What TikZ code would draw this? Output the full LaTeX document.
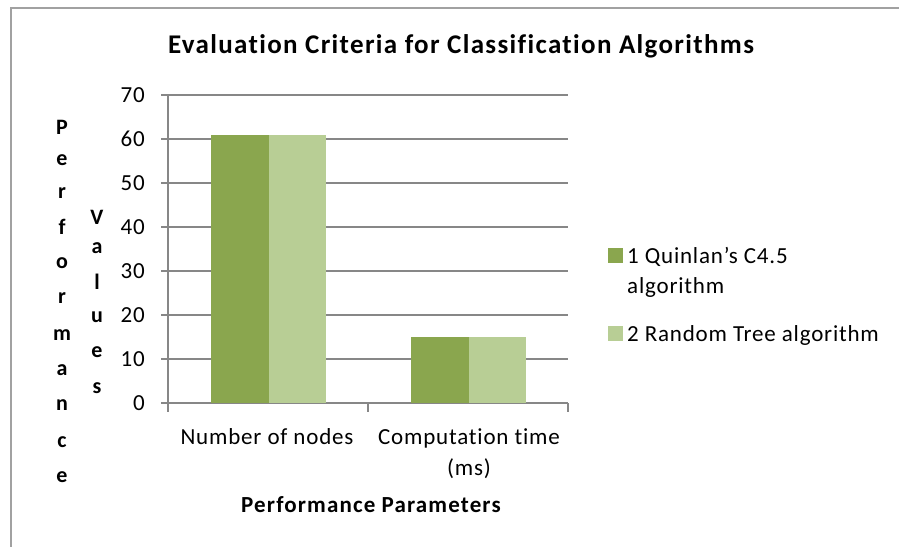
\documentclass[tikz,border=0pt]{standalone}
\usepackage{fontspec}
\setmainfont{Carlito}[LetterSpace=3.5,Ligatures=NoCommon]
\newfontfamily\boldfam{Carlito}[LetterSpace=5,Ligatures=NoCommon]
\begin{document}
\begin{tikzpicture}[x=1pt,y=-1pt,
  grid/.style={draw=black!47,line width=1.4pt},
  bardark/.style={fill=darkgreen,draw=none},
  barlight/.style={fill=lightgreen,draw=none},
  ticklab/.style={anchor=east,font=\fontsize{23}{26}\selectfont,inner sep=0pt},
  axlab/.style={anchor=base,font=\fontsize{23}{26}\selectfont,inner sep=0pt},
  vlet/.style={font=\boldfam\bfseries\fontsize{22}{24}\selectfont,inner sep=0pt},
  legtext/.style={anchor=base west,font=\fontsize{23}{26}\selectfont,inner sep=0pt},
  legbox/.style={minimum size=15pt,inner sep=0pt}]
\definecolor{darkgreen}{HTML}{8AA64E}
\definecolor{lightgreen}{HTML}{B8CE95}
\useasboundingbox (0,0) rectangle (899,546);
\fill[white] (0,0) rectangle (899,546);
% frame
\draw[draw=black!37,line width=2pt] (10.5,560) -- (10.5,8) -- (910,8);
% title
\node[anchor=base,font=\boldfam\bfseries\fontsize{27}{30}\selectfont,inner sep=0pt] (title) at (461,53) {Evaluation Criteria for Classification Algorithms};
% gridlines and tick labels
\foreach \v in {0,10,...,70}{
  \draw[grid] (161,{403-4.4*\v}) -- (568,{403-4.4*\v});
  \node[ticklab] (t\v) at (145,{403-4.4*\v}) {\v};
}
% y axis
\draw[grid] (168,95) -- (168,412);
\draw[grid] (368,403) -- (368,412);
\draw[grid] (568,403) -- (568,412);
% bars
\fill[bardark] (211,403) rectangle (269,{403-4.4*61});
\fill[barlight] (269,403) rectangle (326,{403-4.4*61});
\fill[bardark] (411,403) rectangle (469,{403-4.4*15});
\fill[barlight] (469,403) rectangle (526,{403-4.4*15});
% x labels
\node[axlab] (c1) at (267,444) {Number of nodes};
\node[axlab] (c2) at (469,444) {Computation time};
\node[axlab] (c2b) at (469,475) {(ms)};
\node[axlab,font=\boldfam\bfseries\fontsize{23}{26}\selectfont] (xt) at (371,512) {Performance Parameters};
% y titles
\foreach \l/\y [count=\i] in {P/127,e/160,r/193,f/227,o/263,r/298,m/335,a/370,n/405,c/442,e/477}
  \node[vlet] (pl\i) at (62,\y) {\l};
\foreach \l/\y [count=\i] in {V/217,a/248,l/282,u/317,e/352,s/388}
  \node[vlet] (vl\i) at (97,\y) {\l};
% legend
\node[legbox,fill=darkgreen] (lb1) at (615.5,255.5) {};
\node[legtext] (lt1) at (627,263) {1 Quinlan’s C4.5};
\node[legtext] (lt1b) at (627,293) {algorithm};
\node[legbox,fill=lightgreen] (lb2) at (615.5,333) {};
\node[legtext] (lt2) at (627,341) {2 Random Tree algorithm};
\end{tikzpicture}
\end{document}
